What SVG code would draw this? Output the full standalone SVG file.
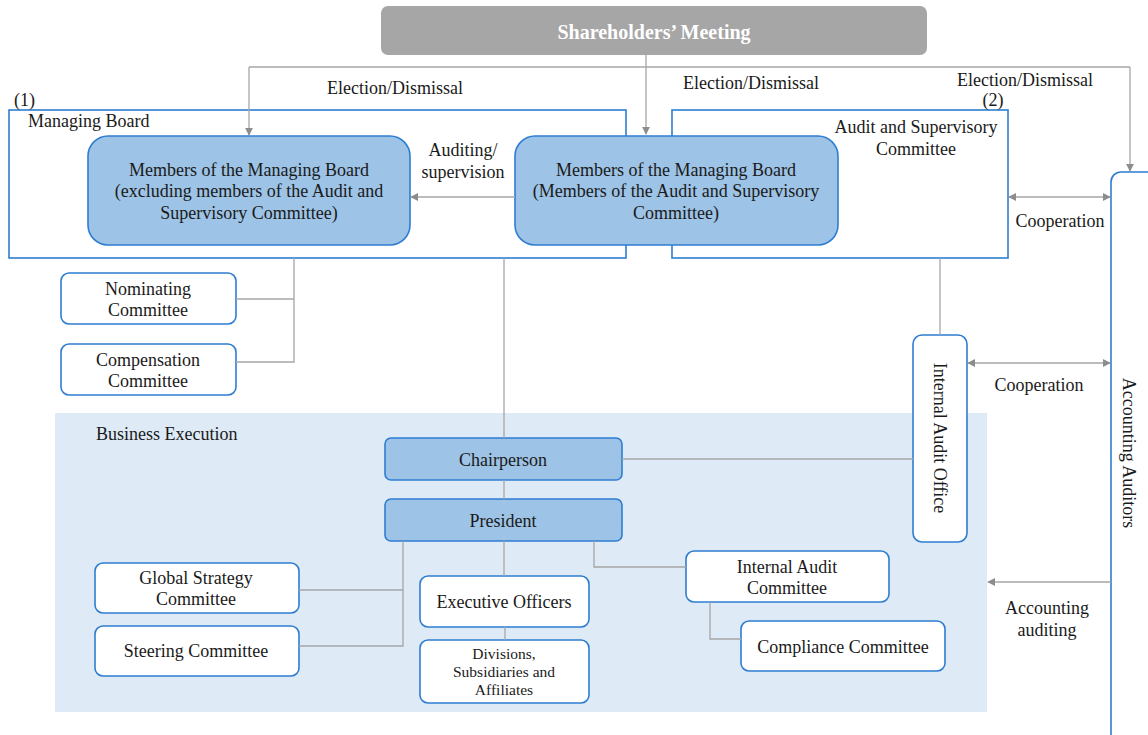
<svg xmlns="http://www.w3.org/2000/svg" width="1148" height="735" viewBox="0 0 1148 735">
<style>
text{font-family:"Liberation Serif","Times New Roman",Times,"DejaVu Serif",serif;font-size:18px;fill:#1a1a1a}
.c{text-anchor:middle}
.frame{fill:#fff;stroke:#2e7dd1;stroke-width:1.6}
.node{fill:#fff;stroke:#2e7dd1;stroke-width:1.6}
.dark{fill:#9dc3e6;stroke:#2e7dd1;stroke-width:1.6}
.ln{fill:none;stroke:#a6a6a6;stroke-width:1.3}
.ar{fill:none;stroke:#a6a6a6;stroke-width:1.3;marker-end:url(#ah)}
.ar2{fill:none;stroke:#a6a6a6;stroke-width:1.3;marker-end:url(#ah);marker-start:url(#ahs)}
</style>
<defs>
<marker id="ah" viewBox="0 0 10 10" refX="9" refY="5" markerWidth="8" markerHeight="8" markerUnits="userSpaceOnUse" orient="auto"><path d="M0,0 L10,5 L0,10 z" fill="#8c8c8c"/></marker>
<marker id="ahs" viewBox="0 0 10 10" refX="1" refY="5" markerWidth="8" markerHeight="8" markerUnits="userSpaceOnUse" orient="auto"><path d="M10,0 L0,5 L10,10 z" fill="#8c8c8c"/></marker>
</defs>
<rect width="1148" height="735" fill="#fff"/>

<g id="business-execution">
<rect x="55" y="413" width="932" height="299" fill="#deebf7"/>
<text x="96" y="440">Business Execution</text>
</g>

<g id="shareholders">
<rect x="381" y="6" width="546" height="49" rx="7" fill="#a6a6a6"/>
<text x="654" y="39" class="c" style="fill:#fff;font-weight:bold;font-size:20px">Shareholders’ Meeting</text>
</g>

<g id="managing-board">
<rect x="9" y="110" width="617" height="148" class="frame"/>
<text x="28" y="127">Managing Board</text>
<text x="14" y="106">(1)</text>
</g>

<g id="audit-committee">
<rect x="672" y="110" width="336" height="148" class="frame"/>
<text x="916" y="133" class="c">Audit and Supervisory</text>
<text x="916" y="155" class="c">Committee</text>
<text x="993" y="106" class="c">(2)</text>
</g>

<g id="members-excl">
<rect x="88" y="136" width="322" height="109" rx="20" class="dark"/>
<text x="249" y="176" class="c">Members of the Managing Board</text>
<text x="249" y="197" class="c">(excluding members of the Audit and</text>
<text x="249" y="219" class="c">Supervisory Committee)</text>
</g>

<g id="members-audit">
<rect x="515" y="136" width="323" height="109" rx="20" class="dark"/>
<text x="676" y="176" class="c">Members of the Managing Board</text>
<text x="676" y="197" class="c">(Members of the Audit and Supervisory</text>
<text x="676" y="219" class="c">Committee)</text>
</g>

<g id="nominating">
<rect x="61" y="273" width="175" height="51" rx="8" class="node"/>
<text x="148" y="295" class="c">Nominating</text>
<text x="148" y="316" class="c">Committee</text>
</g>

<g id="compensation">
<rect x="61" y="344" width="175" height="51" rx="8" class="node"/>
<text x="148" y="366" class="c">Compensation</text>
<text x="148" y="387" class="c">Committee</text>
</g>

<g id="internal-audit-office">
<rect x="913" y="335" width="54" height="207" rx="9" class="node"/>
<text x="0" y="0" class="c" transform="translate(934,438) rotate(90)">Internal Audit Office</text>
</g>

<g id="accounting-auditors">
<rect x="1111" y="172" width="60" height="600" rx="10" class="node"/>
<text x="0" y="0" class="c" transform="translate(1123,453) rotate(90)">Accounting Auditors</text>
</g>

<g id="chairperson">
<rect x="385" y="438" width="237" height="42" rx="6" class="dark"/>
<text x="503" y="466" class="c">Chairperson</text>
</g>

<g id="president">
<rect x="385" y="499" width="237" height="42" rx="6" class="dark"/>
<text x="503" y="527" class="c">President</text>
</g>

<g id="global-strategy">
<rect x="95" y="563" width="204" height="50" rx="8" class="node"/>
<text x="196" y="584" class="c">Global Strategy</text>
<text x="196" y="605" class="c">Committee</text>
</g>

<g id="steering">
<rect x="95" y="626" width="204" height="50" rx="8" class="node"/>
<text x="196" y="657" class="c">Steering Committee</text>
</g>

<g id="executive-officers">
<rect x="420" y="576" width="169" height="51" rx="8" class="node"/>
<text x="504" y="608" class="c">Executive Officers</text>
</g>

<g id="divisions">
<rect x="420" y="640" width="169" height="63" rx="8" class="node"/>
<text x="504" y="659" class="c" style="font-size:15.5px">Divisions,</text>
<text x="504" y="677" class="c" style="font-size:15.5px">Subsidiaries and</text>
<text x="504" y="695" class="c" style="font-size:15.5px">Affiliates</text>
</g>

<g id="internal-audit-committee">
<rect x="686" y="551" width="203" height="51" rx="8" class="node"/>
<text x="787" y="573" class="c">Internal Audit</text>
<text x="787" y="594" class="c">Committee</text>
</g>

<g id="compliance">
<rect x="741" y="621" width="204" height="50" rx="8" class="node"/>
<text x="843" y="653" class="c">Compliance Committee</text>
</g>

<g id="connectors">
<path class="ln" d="M249,67 H1130"/>
<path class="ar" d="M249,67 V135"/>
<path class="ar" d="M1130,67 V171"/>
<path class="ar" d="M646,55 V134"/>
<path class="ar" d="M515,197 H411"/>
<path class="ln" d="M294,258 V362 H236 M294,299 H236"/>
<path class="ln" d="M504,258 V438"/>
<path class="ln" d="M940,258 V335"/>
<path class="ln" d="M622,459 H913"/>
<path class="ln" d="M504,480 V499"/>
<path class="ln" d="M403,541 V646 H299 M403,590 H299"/>
<path class="ln" d="M504,541 V576"/>
<path class="ln" d="M594,541 V567 H686"/>
<path class="ln" d="M505,627 V640"/>
<path class="ln" d="M710,602 V639 H741"/>
<path class="ar2" d="M1009,197 H1110"/>
<path class="ar2" d="M968,363 H1110"/>
<path class="ar" d="M1111,582 H988"/>
</g>

<g id="labels">
<text x="395" y="94" class="c">Election/Dismissal</text>
<text x="751" y="89" class="c">Election/Dismissal</text>
<text x="1025" y="86" class="c">Election/Dismissal</text>
<text x="463" y="156" class="c">Auditing/</text>
<text x="463" y="178" class="c">supervision</text>
<text x="1060" y="227" class="c">Cooperation</text>
<text x="1039" y="391" class="c">Cooperation</text>
<text x="1047" y="614" class="c">Accounting</text>
<text x="1047" y="636" class="c">auditing</text>
</g>
</svg>
